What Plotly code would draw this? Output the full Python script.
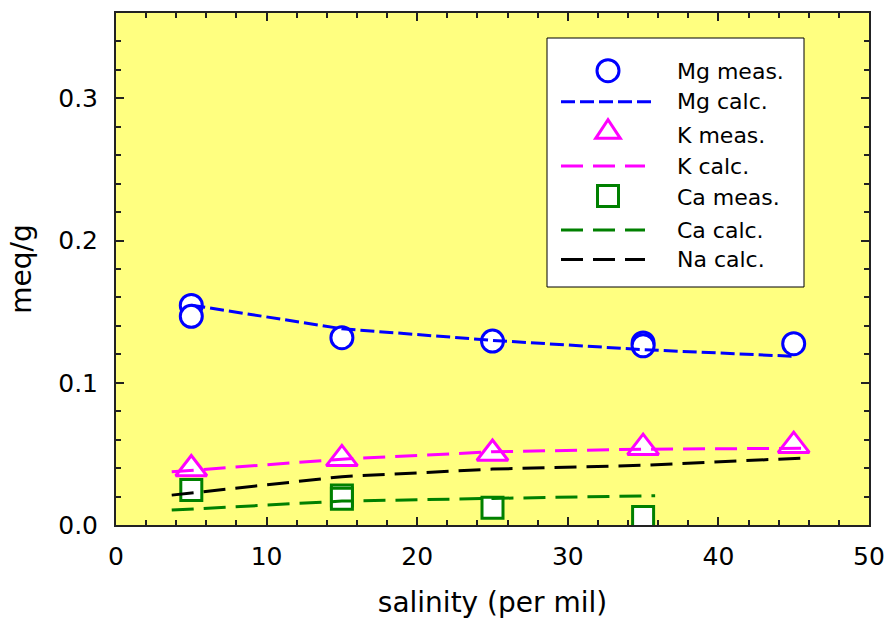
import plotly.graph_objects as go

# ---------------- data ----------------
mg_meas_sal = [5, 5, 15, 25, 35, 35, 45]
mg_meas = [0.1544, 0.1467, 0.1317, 0.1293, 0.128, 0.126, 0.1275]

k_meas_sal = [5, 15, 25, 35, 45]
k_meas = [0.0394, 0.0465, 0.0503, 0.0544, 0.0558]

ca_meas_sal = [5, 15, 15, 25, 35]
ca_meas = [0.0246, 0.0207, 0.0184, 0.0121, 0.0056]

mg_calc_sal = [5, 15, 25, 35, 45]
mg_calc = [0.1546, 0.138, 0.1298, 0.1233, 0.1186]

calc_sal = [3.7, 15, 25, 35, 46.1]
k_calc = [0.0374, 0.0463, 0.0515, 0.0533, 0.054]
na_calc = [0.021, 0.034, 0.0393, 0.042, 0.0473]

ca_calc_sal = [3.7, 15, 25, 35.8]
ca_calc = [0.0105, 0.0168, 0.0187, 0.0206]

legend_labels = ["Mg meas.", "Mg calc.", "K meas.", "K calc.", "Ca meas.", "Ca calc.", "Na calc."]

BLUE = "#0000FF"
MAGENTA = "#FF00FF"
GREEN = "#008000"
BLACK = "#000000"
FONT = "DejaVu Sans"

# ---------------- layout geometry ----------------
W, H = 887, 621
ML, MR, MT, MB = 116, 18, 13, 96
PW = W - ML - MR
PH = H - MT - MB


def px_x(px):
    return (px - ML) / PW


def px_y(py):
    return (H - MB - py) / PH


fig = go.Figure()

# measured markers
fig.add_trace(go.Scatter(x=mg_meas_sal, y=mg_meas, mode="markers", name="Mg meas.",
                         marker=dict(symbol="circle", size=22, color="white",
                                     line=dict(color=BLUE, width=3))))
fig.add_trace(go.Scatter(x=k_meas_sal, y=k_meas, mode="markers", name="K meas.",
                         marker=dict(symbol="triangle-up", size=27, color="white",
                                     line=dict(color=MAGENTA, width=3))))
fig.add_trace(go.Scatter(x=ca_meas_sal, y=ca_meas, mode="markers", name="Ca meas.",
                         marker=dict(symbol="square", size=21, color="white",
                                     line=dict(color=GREEN, width=3))))

# calculated lines (drawn on top of markers)
fig.add_trace(go.Scatter(x=mg_calc_sal, y=mg_calc, mode="lines", name="Mg calc.",
                         line=dict(color=BLUE, width=3, dash="14px,5px")))
fig.add_trace(go.Scatter(x=calc_sal, y=k_calc, mode="lines", name="K calc.",
                         line=dict(color=MAGENTA, width=3, dash="22px,10px")))
fig.add_trace(go.Scatter(x=ca_calc_sal, y=ca_calc, mode="lines", name="Ca calc.",
                         line=dict(color=GREEN, width=3, dash="22px,10px")))
fig.add_trace(go.Scatter(x=calc_sal, y=na_calc, mode="lines", name="Na calc.",
                         line=dict(color=BLACK, width=3, dash="22px,10px")))

# ---------------- custom legend ----------------
shapes = []
annotations = []
box_l, box_r, box_t, box_b = 547, 804, 38, 287
shapes.append(dict(type="rect", xref="paper", yref="paper",
                   x0=px_x(box_l), x1=px_x(box_r), y0=px_y(box_b), y1=px_y(box_t),
                   fillcolor="white", line=dict(color=BLACK, width=1), layer="above"))

glyph_x = px_x(608)
rows_glyph = [70.7, 101.7, 129, 166, 196, 230, 259.5]
rows_text = [71, 101.7, 135, 166.7, 197.5, 230, 259.5]

# Mg meas glyph (circle)
shapes.append(dict(type="circle", xref="paper", yref="paper", xsizemode="pixel", ysizemode="pixel",
                   xanchor=glyph_x, yanchor=px_y(rows_glyph[0]), x0=-11, x1=11, y0=-11, y1=11,
                   line=dict(color=BLUE, width=3), fillcolor="white", layer="above"))
# Mg calc line
shapes.append(dict(type="line", xref="paper", yref="paper", x0=px_x(561), x1=px_x(655),
                   y0=px_y(rows_glyph[1]), y1=px_y(rows_glyph[1]),
                   line=dict(color=BLUE, width=3, dash="14px,5px"), layer="above"))
# K meas glyph (triangle)
shapes.append(dict(type="path", xref="paper", yref="paper", xsizemode="pixel", ysizemode="pixel",
                   xanchor=glyph_x, yanchor=px_y(rows_glyph[2]),
                   path="M-12.3,-9.3 L12.3,-9.3 L0,9.3 Z",
                   line=dict(color=MAGENTA, width=3), fillcolor="white", layer="above"))
# K calc line
shapes.append(dict(type="line", xref="paper", yref="paper", x0=px_x(561), x1=px_x(645),
                   y0=px_y(rows_glyph[3]), y1=px_y(rows_glyph[3]),
                   line=dict(color=MAGENTA, width=3, dash="22px,10px"), layer="above"))
# Ca meas glyph (square)
shapes.append(dict(type="rect", xref="paper", yref="paper", xsizemode="pixel", ysizemode="pixel",
                   xanchor=glyph_x, yanchor=px_y(rows_glyph[4]), x0=-10.5, x1=10.5, y0=-10.5, y1=10.5,
                   line=dict(color=GREEN, width=3), fillcolor="white", layer="above"))
# Ca calc line
shapes.append(dict(type="line", xref="paper", yref="paper", x0=px_x(561), x1=px_x(645),
                   y0=px_y(rows_glyph[5]), y1=px_y(rows_glyph[5]),
                   line=dict(color=GREEN, width=3, dash="22px,10px"), layer="above"))
# Na calc line
shapes.append(dict(type="line", xref="paper", yref="paper", x0=px_x(561), x1=px_x(645),
                   y0=px_y(rows_glyph[6]), y1=px_y(rows_glyph[6]),
                   line=dict(color=BLACK, width=3, dash="22px,10px"), layer="above"))

for label, ry in zip(legend_labels, rows_text):
    annotations.append(dict(text=label, xref="paper", yref="paper", x=px_x(675), y=px_y(ry),
                            xanchor="left", yanchor="middle", showarrow=False,
                            font=dict(family=FONT, size=22, color=BLACK)))

axis_common = dict(
    showline=True, linecolor="#222222", linewidth=2, mirror="ticks",
    ticks="inside", ticklen=8, tickwidth=1.5, tickcolor="#222222",
    showgrid=False, zeroline=False,
    tickfont=dict(family=FONT, size=25, color=BLACK),
)

fig.update_layout(
    width=W, height=H,
    margin=dict(l=ML, r=MR, t=MT, b=MB, autoexpand=False),
    paper_bgcolor="white",
    plot_bgcolor="#FFFF80",
    showlegend=False,
    shapes=shapes,
    annotations=annotations,
    xaxis=dict(axis_common, range=[0, 50], tickvals=[0, 10, 20, 30, 40, 50],
               minor=dict(ticks="inside", ticklen=5, dtick=2, tickcolor="#222222", tickwidth=1.5),
               ticklabelstandoff=8,
               title=dict(text="salinity (per mil)", font=dict(family=FONT, size=28, color=BLACK),
                          standoff=22)),
    yaxis=dict(axis_common, range=[0, 0.36], tickvals=[0, 0.1, 0.2, 0.3], tickformat=".1f",
               minor=dict(ticks="inside", ticklen=5, dtick=0.02, tickcolor="#222222", tickwidth=1.5),
               ticklabelstandoff=11,
               title=dict(text="meq/g", font=dict(family=FONT, size=28, color=BLACK),
                          standoff=18)),
)

fig.write_html("out.html")
